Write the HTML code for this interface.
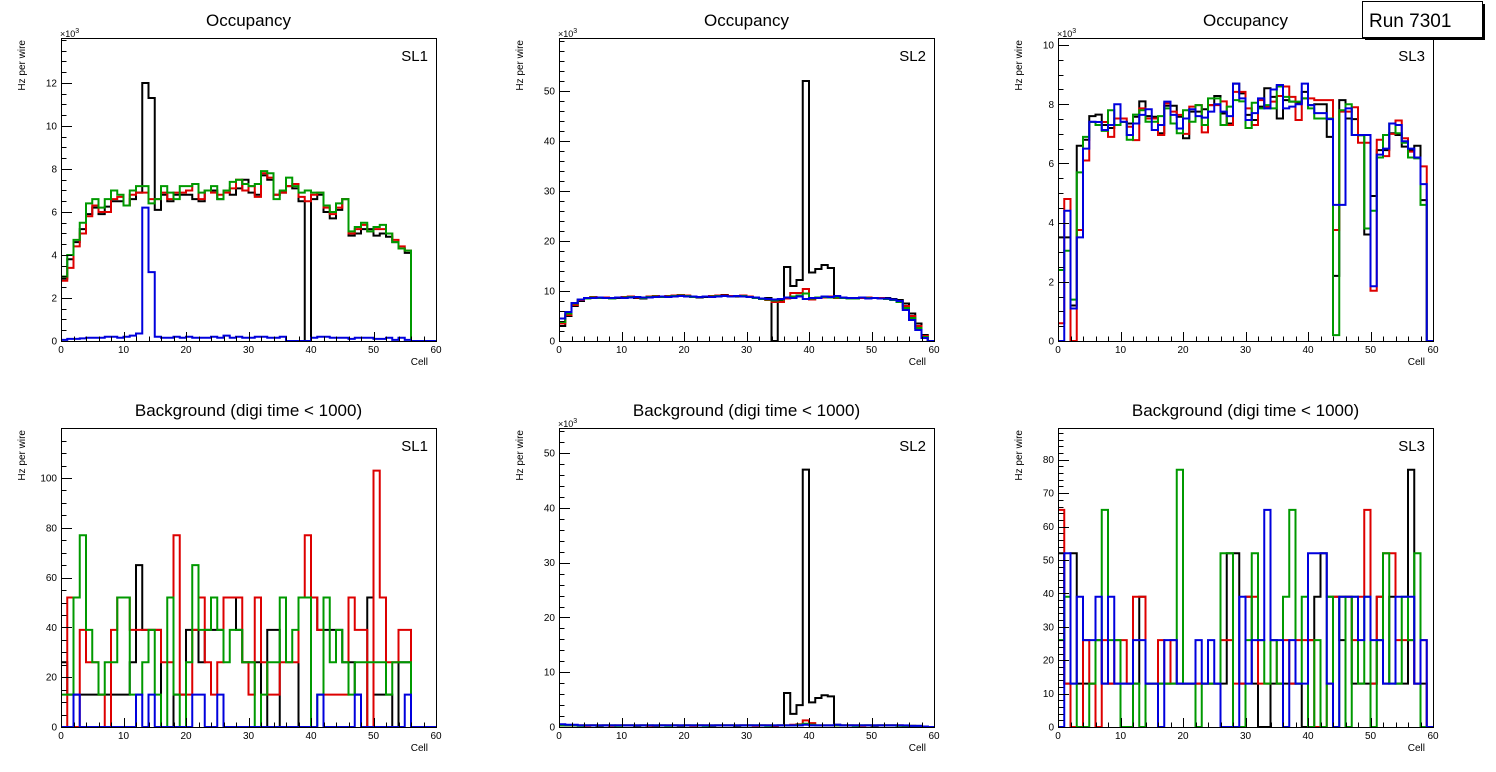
<!DOCTYPE html>
<html><head><meta charset="utf-8">
<style>
html,body{margin:0;padding:0;background:#fff;}
svg{display:block;font-family:"Liberation Sans",Arial,sans-serif;}
</style></head>
<body>
<svg id="c" width="1496" height="772" viewBox="0 0 1496 772" xmlns="http://www.w3.org/2000/svg"></svg>
<script>
// ---- data ----
const cellTicks = [0,10,20,30,40,50,60];
const seriesColors = ["#000000","#dd0000","#009900","#0000dd"];
const seriesNames = ["black","red","green","blue"];

const occSL1Black = [2.9,3.8,4.6,5.2,5.9,6.2,5.9,6.25,6.5,6.5,6.3,6.6,6.9,12.0,11.3,6.1,6.8,6.5,6.8,6.8,6.8,6.6,6.5,7.0,7.0,6.6,7.0,6.8,7.1,7.5,6.9,6.8,7.7,7.5,6.8,6.9,7.2,7.1,6.5,0,6.6,6.8,6.0,5.7,6.1,6.6,4.9,5.0,5.2,5.2,4.9,5.0,4.85,4.6,4.3,4.1];
const occSL1Red   = [2.8,3.4,4.4,5.0,5.8,6.3,6.0,6.0,6.6,6.7,6.3,6.8,6.9,6.9,6.6,6.6,6.9,6.6,6.9,6.9,7.0,7.3,6.6,7.0,6.9,6.8,6.9,7.1,7.5,7.0,7.2,6.7,7.8,7.6,6.8,6.9,7.2,7.3,6.7,6.5,6.8,6.9,6.2,5.9,6.2,6.6,5.0,5.2,5.4,5.1,5.2,5.2,5.0,4.7,4.4,4.2];
const occSL1Green = [3.0,4.0,4.7,5.5,6.4,6.6,6.2,6.6,7.0,6.8,6.3,7.0,7.2,7.2,6.4,6.6,7.2,6.9,6.6,7.2,7.2,7.3,6.9,7.0,7.2,6.6,7.0,7.4,7.5,7.3,7.2,7.3,7.9,7.8,6.6,7.0,7.6,7.2,6.9,7.0,6.9,6.9,6.3,6.0,6.4,6.6,5.1,5.3,5.5,5.1,5.3,5.4,5.0,4.6,4.3,4.2];
const occSL1Blue  = [0.05,0.1,0.1,0.12,0.15,0.15,0.15,0.2,0.2,0.15,0.2,0.25,0.35,6.2,3.2,0.2,0.15,0.15,0.2,0.15,0.2,0.15,0.15,0.15,0.2,0.15,0.25,0.15,0.2,0.15,0.15,0.2,0.2,0.15,0.15,0.2,0,0,0,0,0.15,0.2,0.2,0.15,0.15,0.15,0.1,0.15,0.15,0.15,0.1,0.1,0.15,0.05,0.15,0.05];

const occSL2Black = [3,5,7,8,8.5,8.7,8.7,8.6,8.5,8.6,8.7,8.8,8.6,8.5,8.8,8.9,8.8,8.9,9.0,9.2,9.0,8.8,8.7,8.8,8.9,9.0,9.2,9.0,8.9,9.1,8.8,8.7,8.5,8.6,0,8.2,14.8,11.0,12.2,52,13.7,14.4,15.2,14.6,8.6,8.7,8.6,8.5,8.6,8.7,8.6,8.5,8.6,8.4,8.2,7.5,5.5,3.5,1.2];
const occSL2Red   = [3.5,5.2,7.2,8.2,8.6,8.8,8.7,8.7,8.6,8.7,8.8,8.9,8.7,8.6,8.9,9.0,8.9,9.0,9.1,9.2,9.1,8.9,8.8,8.9,9.0,9.1,9.1,9.0,9.0,9.1,8.9,8.7,8.4,8.2,7.8,7.8,8.5,9.6,9.6,10.4,8.3,8.6,8.7,8.9,8.6,8.7,8.6,8.6,8.6,8.7,8.6,8.6,8.5,8.3,8.0,7.0,5.0,3.0,1.0];
const occSL2Green = [3.8,5.5,7.5,8.3,8.5,8.7,8.6,8.6,8.5,8.7,8.7,8.8,8.8,8.6,8.8,8.9,8.8,8.9,9.0,9.1,9.0,8.8,8.8,8.9,8.9,9.0,9.0,8.9,9.0,9.0,8.8,8.6,8.4,8.3,8.1,8.3,8.7,8.9,9.1,9.5,8.5,8.7,8.8,8.7,8.7,8.6,8.5,8.5,8.7,8.6,8.6,8.5,8.4,8.2,7.8,6.6,4.6,2.6,0.8];
const occSL2Blue  = [4.5,5.8,7.6,8.3,8.6,8.6,8.7,8.6,8.6,8.7,8.6,8.7,8.8,8.7,8.7,8.8,8.9,8.8,8.9,9.0,8.9,8.9,8.8,8.9,8.8,8.9,9.0,8.9,9.0,8.9,8.8,8.7,8.5,8.4,8.3,8.4,8.7,8.6,8.9,8.4,8.6,8.6,8.9,8.8,9.0,8.7,8.6,8.6,8.7,8.5,8.6,8.5,8.5,8.3,8.0,6.2,4.2,2.2,0.6];

const occSL3Black = [3.5,3.5,1.2,6.6,6.8,7.6,7.65,7.3,7.2,7.3,7.4,7.35,7.58,8.1,7.6,7.58,7.02,7.95,7.95,7.58,6.85,7.75,7.75,7.83,7.97,8.28,7.69,7.35,8.7,8.37,7.64,7.47,7.92,8.54,8.25,7.52,8.14,8.09,8.03,8.42,7.97,8.0,8.0,6.9,2.2,8.14,7.52,7.5,6.96,3.6,4.9,6.45,6.45,7.02,6.96,6.57,6.45,6.6,4.76,0];
const occSL3Red   = [0.6,4.8,0,3.75,6.1,7.4,7.4,7.4,6.9,7.52,7.52,7.24,6.79,7.86,7.52,7.52,6.96,8.03,7.75,7.64,7.0,7.92,7.97,7.05,7.97,7.97,8.1,7.3,8.42,8.42,7.86,7.3,8.14,7.92,8.09,8.28,8.6,8.25,7.47,8.2,8.2,8.14,8.14,8.14,3.75,7.75,7.75,7.9,6.7,6.7,1.7,6.8,6.25,7.0,7.45,6.85,6.4,6.2,5.9,0];
const occSL3Green = [2.4,3.05,1.4,5.7,6.9,7.4,7.3,7.1,7.8,7.3,7.4,6.8,7.65,7.8,7.41,7.41,7.6,7.86,7.35,7.02,7.8,7.41,7.97,7.3,8.2,8.2,7.3,7.92,8.14,8.1,7.2,8.05,7.86,7.97,7.86,8.6,8.25,8.09,8.09,8.2,7.86,7.52,7.52,7.52,0.2,7.8,8.0,6.96,6.95,3.8,4.4,6.2,6.96,7.35,7.02,6.7,6.2,6.17,4.6,0];
const occSL3Blue  = [0,4.4,1.1,3.5,6.5,7.41,7.4,7.13,7.3,8.0,7.41,6.96,7.35,7.64,7.83,7.13,7.3,8.09,7.64,7.18,7.52,7.83,7.6,7.55,7.75,8.0,7.75,7.6,8.7,8.2,7.47,7.7,8.2,7.86,8.5,8.65,7.86,7.92,8.0,8.7,7.97,7.7,7.7,7.5,4.6,4.6,7.86,6.96,6.96,6.96,1.85,6.3,6.5,7.35,7.3,6.75,6.5,6.2,5.3,0];

const bkgSL1Black = [26,13,13,13,13,13,13,13,13,13,13,26,65,39,39,39,0,0,13,13,39,39,26,39,39,39,52,52,39,26,26,26,0,39,39,0,0,0,52,52,52,39,39,39,39,26,26,13,0,52,13,13,13,0,26,26];
const bkgSL1Red   = [0,52,0,39,26,26,13,0,39,52,52,39,39,39,39,39,26,26,77,13,13,39,52,26,13,26,52,52,52,26,13,52,26,13,13,26,26,26,52,77,52,39,13,13,13,13,52,39,39,0,103,52,26,26,39,39];
const bkgSL1Green = [13,13,52,77,39,26,13,26,26,52,52,13,13,26,39,13,0,52,13,0,26,65,39,39,52,39,26,39,39,26,26,0,13,26,26,52,26,39,52,52,0,13,52,26,39,26,13,26,26,26,26,26,13,26,26,26];
const bkgSL1Blue  = [0,0,13,0,0,0,0,0,0,0,0,0,13,0,13,0,0,0,0,0,0,13,13,0,0,13,0,0,0,0,0,0,0,0,0,0,0,0,0,0,0,13,0,0,0,0,0,13,0,0,0,0,0,0,0,13];

const bkgSL2Black = [0.4,0.3,0.3,0.3,0.3,0.3,0.2,0.3,0.3,0.3,0.3,0.3,0.2,0.3,0.3,0.2,0.3,0.3,0.3,0.2,0.3,0.3,0.3,0.3,0.2,0.3,0.3,0.3,0.2,0.3,0.3,0.3,0.3,0.3,0,0.3,6.2,2.4,4.0,47,4.5,5.3,5.8,5.6,0.4,0.3,0.3,0.3,0.3,0.3,0.2,0.3,0.3,0.3,0.3,0.2,0.2,0.2,0.1];
const bkgSL2Red   = [0.3,0.3,0.3,0.3,0.2,0.3,0.3,0.3,0.2,0.3,0.3,0.3,0.3,0.3,0.2,0.3,0.3,0.3,0.3,0.3,0.3,0.2,0.3,0.3,0.3,0.3,0.3,0.3,0.3,0.3,0.3,0.2,0.3,0.3,0.2,0.3,0.3,0.4,0.5,1.2,0.7,0.3,0.3,0.3,0.3,0.3,0.3,0.3,0.2,0.3,0.3,0.3,0.3,0.3,0.3,0.2,0.2,0.1,0.1];
const bkgSL2Green = [0.3,0.3,0.3,0.2,0.3,0.3,0.3,0.3,0.3,0.2,0.3,0.3,0.3,0.3,0.3,0.3,0.3,0.2,0.3,0.3,0.3,0.3,0.3,0.2,0.3,0.3,0.3,0.3,0.3,0.3,0.3,0.3,0.3,0.2,0.3,0.3,0.3,0.3,0.4,0.6,0.4,0.3,0.3,0.3,0.3,0.3,0.3,0.2,0.3,0.3,0.3,0.3,0.3,0.3,0.2,0.2,0.2,0.1,0.1];
const bkgSL2Blue  = [0.5,0.4,0.4,0.3,0.3,0.3,0.3,0.3,0.3,0.3,0.3,0.3,0.3,0.3,0.3,0.3,0.3,0.3,0.3,0.3,0.3,0.3,0.3,0.3,0.3,0.3,0.3,0.3,0.3,0.3,0.3,0.3,0.3,0.3,0.3,0.3,0.3,0.3,0.3,0.4,0.3,0.3,0.3,0.3,0.4,0.3,0.3,0.3,0.3,0.3,0.3,0.3,0.3,0.3,0.3,0.3,0.2,0.2,0.1];

const bkgSL3Black = [52,13,52,13,13,13,26,13,13,13,13,13,13,39,13,13,13,13,13,13,13,13,13,13,13,13,13,52,52,13,39,13,0,0,13,13,13,13,13,0,26,39,52,39,39,26,39,13,13,13,13,39,13,39,13,13,77,13,13,0];
const bkgSL3Red   = [65,13,0,0,26,13,0,26,13,26,26,13,39,39,13,13,26,13,26,13,13,13,13,13,13,13,26,26,13,13,39,39,13,13,26,13,26,13,26,26,26,0,0,13,39,39,39,26,39,65,13,39,52,52,26,26,26,13,26,0];
const bkgSL3Green = [26,39,13,0,0,13,26,65,26,26,0,0,13,0,13,13,13,13,13,77,13,13,0,13,13,13,52,52,0,0,26,52,26,13,26,13,39,65,13,39,0,26,0,39,0,39,0,39,13,39,0,26,52,13,13,39,26,52,0,0];
const bkgSL3Blue  = [0,52,13,39,26,26,39,13,39,13,13,13,26,26,13,13,0,26,26,13,13,13,26,13,26,13,0,0,0,39,13,26,26,65,26,26,0,26,13,13,52,52,52,13,0,39,39,39,26,39,26,26,13,13,39,39,39,13,26,0];

const occYTicks = [[0,2,4,6,8,10,12],[0,10,20,30,40,50],[0,2,4,6,8,10]];
const bkgYTicks = [[0,20,40,60,80,100],[0,10,20,30,40,50],[0,10,20,30,40,50,60,70,80]];
const occYMax = [14.09,60.6,10.24];
const bkgYMax = [120.1,54.6,89.5];
const occMinor = [0.5,2,0.5];
const bkgMinor = [5,2,2];

const NS = "http://www.w3.org/2000/svg";
const svg = document.getElementById("c");
function mk(tag, attrs, parent){
  const e = document.createElementNS(NS, tag);
  for (const k in attrs) e.setAttribute(k, attrs[k]);
  (parent||svg).appendChild(e);
  return e;
}

function drawPanel(px, top, bottom, ymax, yticks, minor, series, title, sl, expo, idx){
  const W = 375, x1 = px + W;
  const g = mk("g", {});
  
  
  const xs = v => px + v / 60 * W;
  const ys = v => bottom - v / ymax * (bottom - top);
  // title
  const t = mk("text", {x: px + W/2, y: top - 12, "text-anchor":"middle", "font-size":"17"}, g);
  t.textContent = title;
  
  
  // clip
  const cid = "clip" + idx;
  const cp = mk("clipPath", {id: cid}, g);
  mk("rect", {x: px, y: top, width: W, height: bottom - top}, cp);
  // series
  const sg = mk("g", {"clip-path": "url(#" + cid + ")"}, g);
  series.forEach((vals, si) => {
    let d = "M" + xs(0) + "," + ys(vals[0]);
    for (let b = 0; b < 60; b++) {
      const v = b < vals.length ? vals[b] : 0;
      const prev = b === 0 ? v : (b - 1 < vals.length ? vals[b - 1] : 0);
      if (b > 0) d += " L" + xs(b) + "," + ys(prev) + " L" + xs(b) + "," + ys(v);
    }
    const last = vals.length >= 60 ? vals[59] : 0;
    d += " L" + xs(60) + "," + ys(last);
    const p = mk("path", {d: d, fill: "none", stroke: seriesColors[si], "stroke-width": "2", "stroke-linejoin": "miter"}, sg);
    
    
  });
  // frame
  const fr = mk("rect", {x: px + 0.5, y: top + 0.5, width: W, height: bottom - top, fill: "none", stroke: "#000", "stroke-width": "1"}, g);
  
  
  // x ticks
  for (let v = 0; v <= 60; v += 2) {
    const X = Math.round(xs(v)) + 0.5;
    const len = v % 10 === 0 ? 9 : 4.5;
    mk("line", {x1: X, x2: X, y1: bottom, y2: bottom - len, stroke: "#000", "stroke-width": "1"}, g);
  }
  cellTicks.forEach(v => {
    const tl = mk("text", {x: xs(v), y: bottom + 12, "text-anchor": "middle", "font-size": "10"}, g);
    tl.textContent = v;
    
    
  });
  const xl = mk("text", {x: x1 - 8, y: bottom + 24, "text-anchor": "end", "font-size": "10"}, g);
  xl.textContent = "Cell";
  
  
  // y ticks
  for (let v = 0; v <= ymax + 1e-9; v += minor) {
    const Y = Math.round(ys(v)) + 0.5;
    const isMaj = yticks.some(tv => Math.abs(tv - v) < 1e-6);
    mk("line", {x1: px, x2: px + (isMaj ? 11 : 5.5), y1: Y, y2: Y, stroke: "#000", "stroke-width": "1"}, g);
  }
  yticks.forEach(v => {
    const tl = mk("text", {x: px - 4, y: ys(v) + 3.5, "text-anchor": "end", "font-size": "10"}, g);
    tl.textContent = v;
    
    
  });
  const yl = mk("text", {x: 0, y: 0, "text-anchor": "end", "font-size": "10", transform: "translate(" + (px - 36) + "," + (top + 2) + ") rotate(-90)"}, g);
  yl.textContent = "Hz per wire";
  
  
  if (expo) {
    const ex = mk("text", {x: px - 1, y: top - 1, "font-size": "9"}, g);
    ex.textContent = "\u00d710";
    
    
    const ts = mk("tspan", {dy: "-4", "font-size": "7"}, ex);
    ts.textContent = "3";
  }
  const sll = mk("text", {x: x1 - 8, y: top + 23, "text-anchor": "end", "font-size": "15"}, g);
  sll.textContent = sl;
  
  
}

const pxs = [61, 559, 1058];
const occSeries = [
  [occSL1Black, occSL1Red, occSL1Green, occSL1Blue],
  [occSL2Black, occSL2Red, occSL2Green, occSL2Blue],
  [occSL3Black, occSL3Red, occSL3Green, occSL3Blue]];
const bkgSeries = [
  [bkgSL1Black, bkgSL1Red, bkgSL1Green, bkgSL1Blue],
  [bkgSL2Black, bkgSL2Red, bkgSL2Green, bkgSL2Blue],
  [bkgSL3Black, bkgSL3Red, bkgSL3Green, bkgSL3Blue]];
const slNames = ["SL1","SL2","SL3"];
for (let i = 0; i < 3; i++) {
  drawPanel(pxs[i], 38, 341, occYMax[i], occYTicks[i], occMinor[i], occSeries[i], "Occupancy", slNames[i], true, "occ-" + (i+1));
  drawPanel(pxs[i], 428, 727, bkgYMax[i], bkgYTicks[i], bkgMinor[i], bkgSeries[i], "Background (digi time < 1000)", slNames[i], i === 1, "bkg-" + (i+1));
}

// run label box
const rg = mk("g", {});


mk("rect", {x: 1365, y: 4, width: 120, height: 36, fill: "#000"}, rg);
mk("rect", {x: 1362.5, y: 1.5, width: 120, height: 36, fill: "#fff", stroke: "#000", "stroke-width": "1"}, rg);
const rt = mk("text", {x: 1369, y: 27, "font-size": "19"}, rg);
rt.textContent = "Run 7301";
</script>
</body></html>
